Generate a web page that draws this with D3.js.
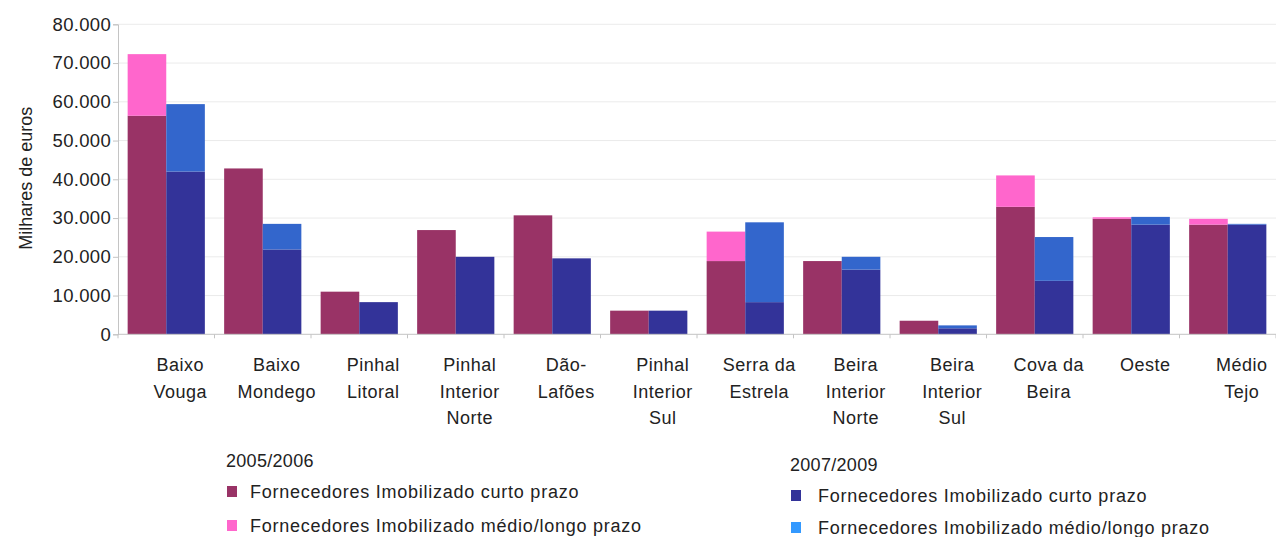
<!DOCTYPE html>
<html>
<head>
<meta charset="utf-8">
<script src="https://cdn.jsdelivr.net/npm/d3@7"></script>
<style>
  body { margin: 0; background: #fff; }
  text { font-family: "Liberation Sans", Arial, sans-serif; fill: #222; }
</style>
</head>
<body>
<div id="chart"></div>
<script>
/* Data */
var categories = ["Baixo Vouga", "Baixo Mondego", "Pinhal Litoral", "Pinhal Interior Norte", "Dão-Lafões",
                  "Pinhal Interior Sul", "Serra da Estrela", "Beira Interior Norte", "Beira Interior Sul",
                  "Cova da Beira", "Oeste", "Médio Tejo"];
var labelLines = [["Baixo", "Vouga"], ["Baixo", "Mondego"], ["Pinhal", "Litoral"], ["Pinhal", "Interior", "Norte"],
                  ["Dão-", "Lafões"], ["Pinhal", "Interior", "Sul"], ["Serra da", "Estrela"], ["Beira", "Interior", "Norte"],
                  ["Beira", "Interior", "Sul"], ["Cova da", "Beira"], ["Oeste"], ["Médio", "Tejo"]];
var curto0506 = [56400, 42800, 11000, 26900, 30700, 6100, 18900, 18900, 3500, 32900, 29800, 28300];
var medio0506 = [15900, 0, 0, 0, 0, 0, 7600, 0, 0, 8100, 400, 1500];
var curto0709 = [42000, 21900, 8300, 20000, 19600, 6100, 8300, 16700, 1550, 13800, 28300, 28300];
var medio0709 = [17400, 6600, 0, 0, 0, 0, 20600, 3300, 750, 11300, 2000, 200];
var yTicks = [0, 10000, 20000, 30000, 40000, 50000, 60000, 70000, 80000];
var periods = ["2005/2006", "2007/2009"];
var seriesNames = ["Fornecedores Imobilizado curto prazo", "Fornecedores Imobilizado médio/longo prazo"];

var width = 1276, height = 537;
var margin = {top: 24.3, right: 0, bottom: 202.7, left: 118};

var svg = d3.select("#chart").append("svg").attr("width", width).attr("height", height);

var x = d3.scaleBand()
    .domain(categories)
    .range([margin.left, width - margin.right])
    .paddingInner(0.2)
    .paddingOuter(0.1);

var y = d3.scaleLinear()
    .domain([0, 80000])
    .range([height - margin.bottom, margin.top]);

var fmt = d3.formatLocale({decimal: ",", thousands: ".", grouping: [3], currency: ["", "€"]}).format(",d");

/* gridlines */
svg.append("g")
  .selectAll("line")
  .data(yTicks.slice(1))
  .enter().append("line")
    .attr("x1", margin.left)
    .attr("x2", width)
    .attr("y1", function(d) { return y(d); })
    .attr("y2", function(d) { return y(d); })
    .attr("stroke", "#ebebeb")
    .attr("stroke-width", 1);

/* bars: stacked, two groups per region */
var half = x.bandwidth() / 2;
var groups = [
  {curto: curto0506, medio: medio0506, off: 0, c1: "#993366", c2: "#ff66cc"},
  {curto: curto0709, medio: medio0709, off: half, c1: "#333399", c2: "#3366cc"}
];

groups.forEach(function(g) {
  var bars = svg.append("g");
  bars.selectAll("rect.curto")
    .data(categories)
    .enter().append("rect")
      .attr("class", "curto")
      .attr("x", function(d) { return x(d) + g.off; })
      .attr("width", half)
      .attr("y", function(d, i) { return y(g.curto[i]); })
      .attr("height", function(d, i) { return y(0) - y(g.curto[i]); })
      .attr("fill", g.c1);
  bars.selectAll("rect.medio")
    .data(categories)
    .enter().append("rect")
      .attr("class", "medio")
      .attr("x", function(d) { return x(d) + g.off; })
      .attr("width", half)
      .attr("y", function(d, i) { return y(g.curto[i] + g.medio[i]); })
      .attr("height", function(d, i) { return y(g.curto[i]) - y(g.curto[i] + g.medio[i]); })
      .attr("fill", g.c2);
});

/* y axis */
var yAxis = svg.append("g")
    .attr("transform", "translate(" + margin.left + ",0)")
    .call(d3.axisLeft(y).tickValues(yTicks).tickFormat(fmt).tickSize(5).tickPadding(2));
yAxis.select(".domain").attr("stroke", "#c4c4c4");
yAxis.selectAll(".tick line").attr("stroke", "#c4c4c4");
yAxis.selectAll(".tick text")
    .attr("font-size", 18.5)
    .attr("letter-spacing", "0.3px")
    .attr("font-family", "Liberation Sans, Arial, sans-serif")
    .attr("fill", "#222");

svg.append("text")
    .attr("transform", "translate(32," + (y(40000) - 1) + ") rotate(-90)")
    .attr("text-anchor", "middle")
    .attr("font-size", 18)
    .text("Milhares de euros");

/* x axis line and boundary ticks */
var gap = (x.step() - x.bandwidth()) / 2;
var bounds = categories.map(function(d) { return x(d) - gap; }).concat([x.range()[1]]);
svg.append("line")
    .attr("x1", margin.left).attr("x2", width)
    .attr("y1", y(0)).attr("y2", y(0))
    .attr("stroke", "#c4c4c4");
svg.append("g")
  .selectAll("line")
  .data(bounds)
  .enter().append("line")
    .attr("x1", function(d) { return d; })
    .attr("x2", function(d) { return d; })
    .attr("y1", y(0))
    .attr("y2", y(0) + 4)
    .attr("stroke", "#c4c4c4");

/* category labels, wrapped */
var lab = svg.append("g")
  .selectAll("text")
  .data(categories)
  .enter().append("text")
    .attr("text-anchor", "middle")
    .attr("font-size", 18)
    .attr("letter-spacing", "0.5px")
    .attr("transform", function(d) { return "translate(" + (x(d) + x.bandwidth() / 2 + 14) + ",371)"; });
lab.each(function(d, i) {
  d3.select(this).selectAll("tspan")
    .data(labelLines[i])
    .enter().append("tspan")
      .attr("x", 0)
      .attr("y", function(t, j) { return j * 26.7; })
      .text(function(t) { return t; });
});

/* legend */
var legends = [
  {x: 226, y: 467, sx: 227, tx: 250, rows: [498, 532], colors: ["#993366", "#ff66cc"]},
  {x: 790, y: 471, sx: 791, tx: 818, rows: [502, 534], colors: ["#333399", "#3399ff"]}
];
legends.forEach(function(l, k) {
  var lg = svg.append("g").attr("class", "legend");
  lg.append("text")
      .attr("x", l.x)
      .attr("y", l.y)
      .attr("font-size", 18)
      .attr("letter-spacing", "0.3px")
      .text(periods[k]);
  lg.selectAll("rect")
    .data(seriesNames)
    .enter().append("rect")
      .attr("x", l.sx)
      .attr("y", function(d, i) { return l.rows[i] - 12; })
      .attr("width", 10)
      .attr("height", 11)
      .attr("fill", function(d, i) { return l.colors[i]; });
  lg.selectAll("text.item")
    .data(seriesNames)
    .enter().append("text")
      .attr("class", "item")
      .attr("x", l.tx)
      .attr("y", function(d, i) { return l.rows[i]; })
      .attr("font-size", 18)
      .attr("letter-spacing", "0.75px")
      .text(function(d) { return d; });
});
</script>
</body>
</html>
